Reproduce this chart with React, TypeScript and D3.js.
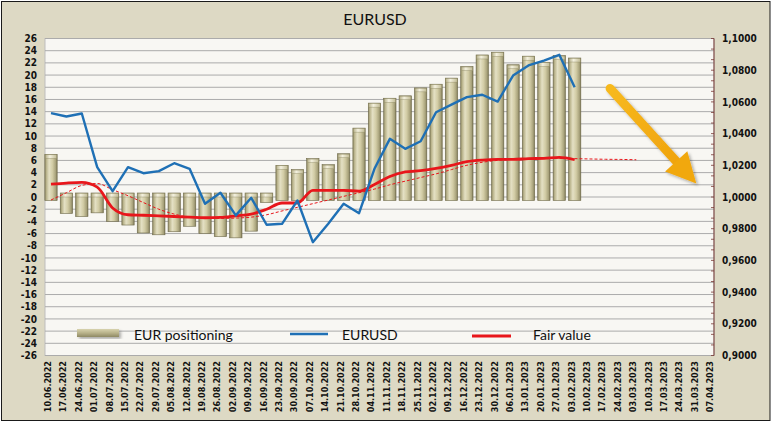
import React from "react";
import * as d3 from "d3";

const title = "EURUSD";

const dates = [
  "10.06.2022", "17.06.2022", "24.06.2022", "01.07.2022", "08.07.2022", "15.07.2022",
  "22.07.2022", "29.07.2022", "05.08.2022", "12.08.2022", "19.08.2022", "26.08.2022",
  "02.09.2022", "09.09.2022", "16.09.2022", "23.09.2022", "30.09.2022", "07.10.2022",
  "14.10.2022", "21.10.2022", "28.10.2022", "04.11.2022", "11.11.2022", "18.11.2022",
  "25.11.2022", "02.12.2022", "09.12.2022", "16.12.2022", "23.12.2022", "30.12.2022",
  "06.01.2023", "13.01.2023", "20.01.2023", "27.01.2023", "03.02.2023", "10.02.2023",
  "17.02.2023", "24.02.2023", "03.03.2023", "10.03.2023", "17.03.2023", "24.03.2023",
  "31.03.2023", "07.04.2023",
];

// EUR positioning (left axis)
const positioning = [
  7.0, -2.7, -3.2, -2.6, -4.0, -4.6, -5.9, -6.2, -5.7, -4.8, -6.0, -6.5,
  -6.7, -5.6, -0.9, 5.2, 4.5, 6.3, 5.3, 7.1, 11.3, 15.4, 16.2, 16.6,
  17.9, 18.5, 19.5, 21.4, 23.3, 23.75, 21.7, 23.1, 22.1, 23.2, 22.8,
];

// EURUSD (right axis)
const eurusd = [
  1.0529, 1.0508, 1.0527, 1.0188, 1.0037, 1.0188, 1.015, 1.0163, 1.0213, 1.0178,
  0.9957, 1.0027, 0.9884, 0.9995, 0.9825, 0.9831, 0.9978, 0.9715, 0.9831, 0.9957,
  0.9898, 1.0178, 1.0367, 1.0304, 1.0352, 1.0535, 1.0583, 1.063, 1.0645, 1.0602,
  1.0766, 1.083, 1.0861, 1.0897, 1.0693,
];

// Fair value (right axis)
const fairValue = [
  1.0081, 1.0088, 1.0092, 1.0062, 0.9931, 0.9888, 0.9885, 0.9881, 0.9877, 0.9873,
  0.9869, 0.9871, 0.9881, 0.9892, 0.9923, 0.9962, 0.9962, 1.0042, 1.0042, 1.0042,
  1.0037, 1.0079, 1.0129, 1.0158, 1.0167, 1.0181, 1.02, 1.0223, 1.0233, 1.0237,
  1.0237, 1.0242, 1.0244, 1.025, 1.0235,
];

// Fair value trend (dashed, right axis)
const fairTrend = [
  0.9981, 1.0027, 1.0073, 1.0085, 1.0046, 1.0008, 0.9965, 0.9923, 0.9892, 0.9873,
  0.9867, 0.9865, 0.9867, 0.9873, 0.9888, 0.9912, 0.9935, 0.9958, 0.9981, 1.0004,
  1.0027, 1.005, 1.0077, 1.01, 1.0123, 1.0146, 1.0173, 1.02, 1.0219, 1.0231,
  1.0238, 1.0242, 1.0244, 1.0244, 1.0242, 1.024, 1.0238, 1.0237, 1.0235,
];

const leftTicks = d3.range(-26, 27, 2);
const rightTicks = [0.9, 0.92, 0.94, 0.96, 0.98, 1.0, 1.02, 1.04, 1.06, 1.08, 1.1];
const legendLabels = ["EUR positioning", "EURUSD", "Fair value"];

// annotation arrow: [category index, EURUSD level]
const arrowFrom = [36.3, 1.0685];
const arrowTo = [41.9, 1.0085];

const W = 772;
const H = 423;
const PL = 45;
const PR = 714;
const PT = 38.5;
const PB = 355.5;

const BEIGE = "#DDD9C4";
const BLUE = "#1F70B5";
const RED = "#E8161B";
const AXF = "'DejaVu Sans Condensed', 'DejaVu Sans', sans-serif";
const LF = "Lato, 'Open Sans', sans-serif";

export default function App() {
  const x = d3.scaleBand<string>().domain(dates).range([43.3, 721]).paddingInner(0.2).paddingOuter(0.1);
  const bw = x.bandwidth();
  const cx = (i: number) => (x(dates[0]) as number) + bw / 2 + i * x.step();
  const yL = d3.scaleLinear().domain([-26, 26]).range([PB, PT]);
  const yR = d3.scaleLinear().domain([0.9, 1.1]).range([PB, PT]);

  const lineR = d3.line<number>().x((_, i) => cx(i)).y((d) => yR(d));
  const lineSmooth = d3.line<number>().x((_, i) => cx(i)).y((d) => yR(d)).curve(d3.curveMonotoneX);

  const minorTicks = d3.range(0, 31).map((k) => 0.9 + (k * 0.02) / 3);

  const ax0 = cx(arrowFrom[0]);
  const ay0 = yR(arrowFrom[1]);
  const ax1 = cx(arrowTo[0]);
  const ay1 = yR(arrowTo[1]);
  const dx = ax1 - ax0;
  const dy = ay1 - ay0;
  const len = Math.hypot(dx, dy);
  const ux = dx / len;
  const uy = dy / len;
  const headL = 30;
  const headW = 15;
  const bx = ax1 - ux * headL;
  const by = ay1 - uy * headL;
  const nx = -uy;
  const ny = ux;

  return (
    <div style={{ position: "absolute", left: 0, top: 0 }}>
      <svg width={W} height={H} xmlns="http://www.w3.org/2000/svg">
        <defs>
          <linearGradient id="barGrad" x1="0" x2="1" y1="0" y2="0">
            <stop offset="0" stopColor="#8A8560" />
            <stop offset="0.12" stopColor="#B9B38B" />
            <stop offset="0.35" stopColor="#E4E0C4" />
            <stop offset="0.62" stopColor="#D2CCA5" />
            <stop offset="0.88" stopColor="#A8A27B" />
            <stop offset="1" stopColor="#7C7755" />
          </linearGradient>
          <linearGradient id="capGrad" x1="0" x2="1" y1="0" y2="0">
            <stop offset="0" stopColor="#B6B08A" />
            <stop offset="0.4" stopColor="#F4F1DF" />
            <stop offset="1" stopColor="#C2BC96" />
          </linearGradient>
          <linearGradient id="legGrad" x1="0" x2="0" y1="0" y2="1">
            <stop offset="0" stopColor="#D8D3AE" />
            <stop offset="0.5" stopColor="#B8B28A" />
            <stop offset="1" stopColor="#8E8963" />
          </linearGradient>
          <linearGradient id="arrowGrad" x1="0" x2="1" y1="0" y2="1">
            <stop offset="0" stopColor="#F7B91E" />
            <stop offset="1" stopColor="#F0A40E" />
          </linearGradient>
          <filter id="shadow" x="-20%" y="-20%" width="140%" height="140%">
            <feDropShadow dx="2" dy="2" stdDeviation="1.5" floodColor="#000" floodOpacity="0.3" />
          </filter>
        </defs>

        <rect x={1.5} y={1.5} width={768.5} height={419} fill={BEIGE} stroke="#1a1a1a" strokeWidth={1} />

        <text x={375} y={25} textAnchor="middle" fontFamily={LF} fontSize={16} fill="#111">
          {title}
        </text>

        <rect x={PL} y={PT} width={PR - PL} height={PB - PT} fill="#F8F7F3" stroke="#BDBDBD" strokeWidth={1} />

        {leftTicks.map((t) => (
          <line key={"g" + t} x1={PL} x2={PR} y1={yL(t)} y2={yL(t)} stroke="#ABABAB" strokeWidth={1} />
        ))}

        {positioning.map((v, i) => {
          const x0 = x(dates[i]) as number;
          let top = yL(Math.max(v, 0));
          let bot = yL(Math.min(v, 0));
          if (v < 0) top -= 4;
          else bot += 3.5;
          return (
            <g key={"b" + i}>
              <rect x={x0} y={top} width={bw} height={bot - top} fill="url(#barGrad)" stroke="#6E6949" strokeWidth={0.6} />
              <rect x={x0 + 0.5} y={top + 0.5} width={bw - 1} height={3.5} fill="url(#capGrad)" stroke="#8E8963" strokeWidth={0.4} />
            </g>
          );
        })}

        <path d={lineSmooth(fairTrend) || ""} fill="none" stroke={RED} strokeWidth={1} strokeDasharray="3,2" />
        <path d={lineSmooth(fairValue) || ""} fill="none" stroke={RED} strokeWidth={2.8} strokeLinejoin="round" />
        <path d={lineR(eurusd) || ""} fill="none" stroke={BLUE} strokeWidth={2.4} strokeLinejoin="round" />

        {leftTicks.map((t) => (
          <text key={"l" + t} x={37} y={yL(t)} dy="0.36em" textAnchor="end" fontFamily={AXF} fontWeight="bold" fontSize={10} fill="#111">
            {t}
          </text>
        ))}

        <line x1={PR} x2={PR} y1={PT} y2={PB} stroke="#7A3A35" strokeWidth={1} />
        {minorTicks.map((t, k) => (
          <line key={"m" + k} x1={PR - 3} x2={PR} y1={yR(t)} y2={yR(t)} stroke="#7A3A35" strokeWidth={0.8} />
        ))}
        {rightTicks.map((t) => (
          <text key={"r" + t} x={722} y={yR(t)} dy="0.36em" textAnchor="start" fontFamily={AXF} fontWeight="bold" fontSize={10} fill="#111">
            {t.toFixed(4).replace(".", ",")}
          </text>
        ))}

        {dates.map((d, i) => (
          <text key={"d" + i} transform={`translate(${cx(i)},361) rotate(-90)`} textAnchor="end" fontFamily={AXF} fontWeight="bold" fontSize={9} fill="#111">
            {d}
          </text>
        ))}

        {/* legend */}
        <rect x={77} y={329} width={42} height={8} fill="url(#legGrad)" filter="url(#shadow)" />
        <text x={134} y={340} fontFamily={LF} fontSize={14} fill="#111">{legendLabels[0]}</text>
        <line x1={290} x2={328} y1={334} y2={334} stroke={BLUE} strokeWidth={2.4} />
        <text x={342} y={340} fontFamily={LF} fontSize={14} fill="#111">{legendLabels[1]}</text>
        <line x1={472} x2={511} y1={336} y2={336} stroke={RED} strokeWidth={2.8} />
        <text x={533} y={340} fontFamily={LF} fontSize={14} fill="#111">{legendLabels[2]}</text>

        {/* annotation arrow */}
        <g filter="url(#shadow)">
          <line x1={ax0} y1={ay0} x2={bx} y2={by} stroke="url(#arrowGrad)" strokeWidth={9} strokeLinecap="round" />
          <path
            d={`M${ax1},${ay1} L${bx + nx * headW},${by + ny * headW} L${bx - nx * headW},${by - ny * headW} Z`}
            fill="#F1A811"
          />
        </g>
      </svg>
    </div>
  );
}
